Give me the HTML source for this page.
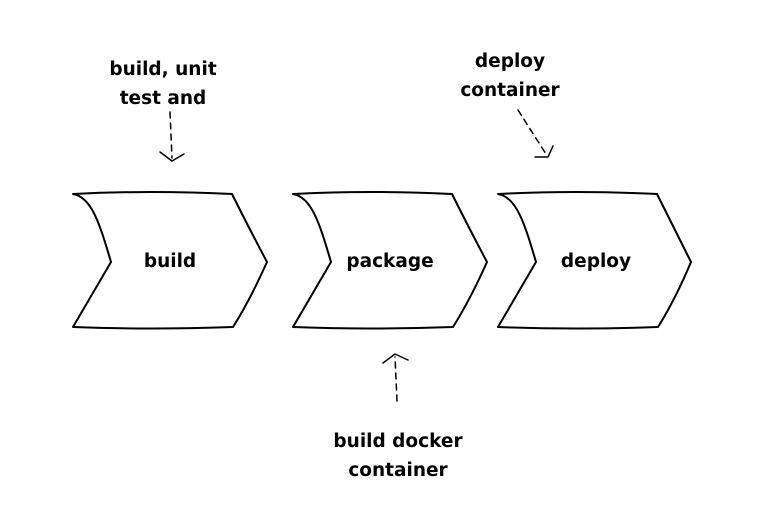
<!DOCTYPE html>
<html><head><meta charset="utf-8"><style>
html,body{margin:0;padding:0;background:#fff;}
svg{display:block}
text{font-family:"DejaVu Sans","Liberation Sans",sans-serif;font-weight:bold;font-size:18.5px;fill:#000;text-anchor:middle}
</style></head><body>
<svg width="779" height="515" viewBox="0 0 779 515">
<g fill="none" stroke="#000" stroke-width="2" stroke-linejoin="round" stroke-linecap="round">
<path d="M73,194 C92,197 100,225 111,262 L73,327 Q150,330 233,327 Q250,300 267,262 Q250,230 232,194 Q150,190 73,194 Z"/>
<path d="M293,194 C312,197 320,225 331,262 L293,327 Q370,330 453,327 Q470,300 487,262 Q470,230 452,194 Q370,190 293,194 Z"/>
<path d="M498,194 C517,197 525,225 536,262 L498,327 Q575,330 658,327 Q675,300 691,262 Q675,230 657,194 Q575,190 498,194 Z"/>
<path d="M170,112 L172,158" stroke-dasharray="6,5" stroke-width="1.5"/>
<path d="M160,152 L172,161 L184,154" stroke-width="1.5"/>
<path d="M397,401 L395,357" stroke-dasharray="6,5" stroke-width="1.5"/>
<path d="M383,363 L395,354 L408,360" stroke-width="1.5"/>
<path d="M518,110 L546,154" stroke-dasharray="6,5" stroke-width="1.5"/>
<path d="M535,157 L548,157 L553,146" stroke-width="1.5"/>
</g>
<text x="170" y="267">build</text>
<text x="390" y="267">package</text>
<text x="596" y="267">deploy</text>
<text x="163" y="75">build, unit</text>
<text x="163" y="104">test and</text>
<text x="510" y="67">deploy</text>
<text x="510" y="96">container</text>
<text x="398" y="447">build docker</text>
<text x="398" y="476">container</text>
</svg>
</body></html>
